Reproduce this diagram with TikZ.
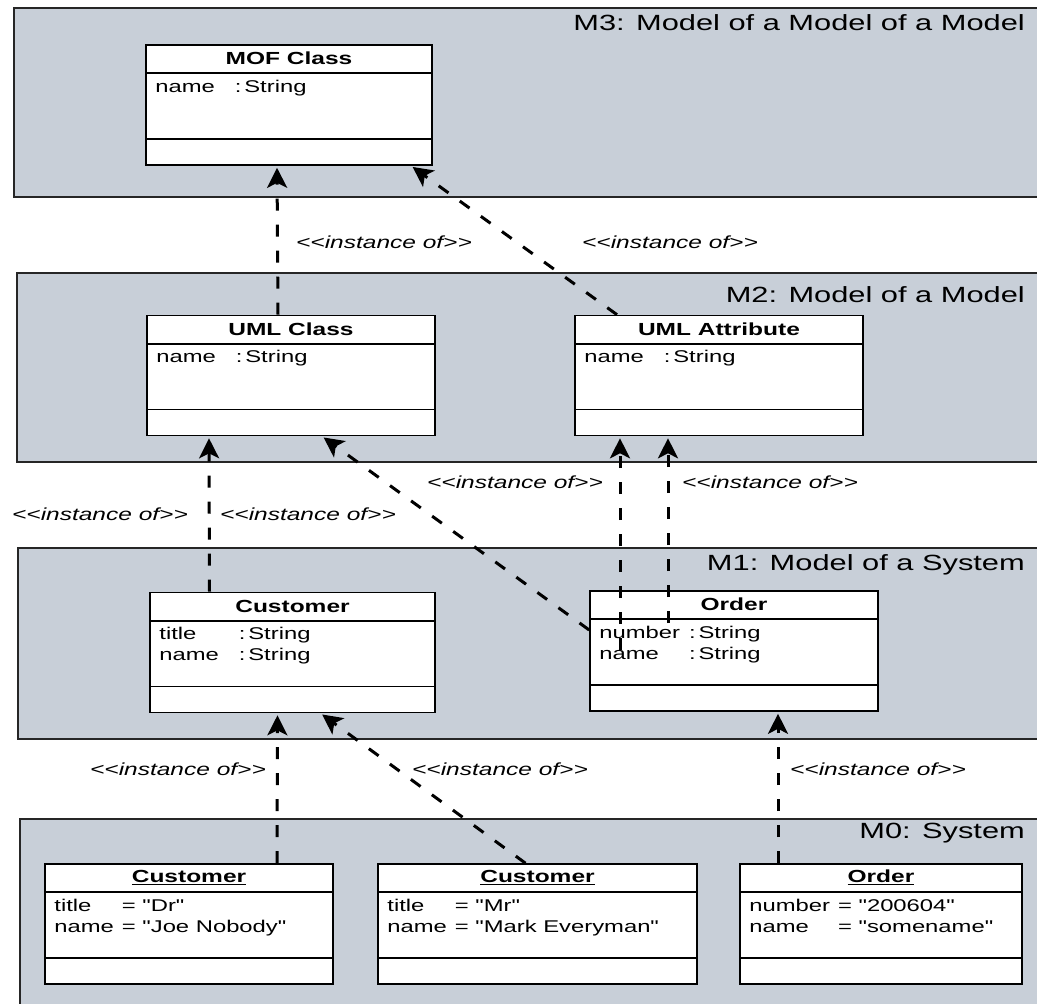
\documentclass[tikz,border=0pt]{standalone}
\usepackage{fontspec}
\setmainfont{Liberation Sans}[FakeStretch=1.4,Ligatures=TeXOff]
\usepackage{tikz}
\usetikzlibrary{arrows.meta,positioning,calc}
\definecolor{layergray}{RGB}{200,207,216}

% one UML box: name, centre, width, title, attribute rows
\newcommand{\umlclass}[5]{%
  \node[umlbox,minimum width=#3](#1) at (#2) {};
  \node[umltitle](#1-title) at ([yshift=-14.5pt]#1.north) {#4};
  \draw[umlrule] ([yshift=-29pt]#1.north west) -- ([yshift=-29pt]#1.north east);
  \draw[umlrule] ([yshift=27pt]#1.south west) -- ([yshift=27pt]#1.south east);
  \node[umlattr](#1-attr) at ([xshift=10pt,yshift=-33pt]#1.north west)
    {\begin{tabular}{@{}l@{\hspace{8pt}}l@{}}#5\end{tabular}};
}
\newcommand{\ofstring}{\hspace{12pt}:\,String}
\newcommand{\instof}{<<instance of>>}

\begin{document}
\begin{tikzpicture}[x=1pt,y=-1pt,% pixel-like grid, y runs down
		layer/.style={draw=black!85,line width=1.6pt,fill=layergray},
		layertitle/.style={anchor=east,inner sep=0pt,font=\fontsize{22}{26}\selectfont},
		umlbox/.style={draw,line width=1.6pt,fill=white,minimum height=120pt,inner sep=0pt},
		umlrule/.style={line width=1.6pt},
		umltitle/.style={inner sep=0pt,font=\bfseries\fontsize{17.5}{20}\selectfont},
		umlattr/.style={anchor=north west,inner sep=0pt,align=left,font=\fontsize{17}{21}\selectfont},
		stereo/.style={inner sep=0pt,font=\itshape\fontsize{17.5}{20}\selectfont},
		instance/.style={draw,line width=3pt,dash pattern=on 12pt off 14pt,shorten >=2pt,
			-{Stealth[length=20pt,width=20pt,inset=5pt]}}
	]
	\useasboundingbox (0,0) rectangle (1037,1004);
	\clip (0,0) rectangle (1037,1004);

	% the four layers
	\draw[layer] (14,8) rectangle (1045,197);
	\draw[layer] (17,273) rectangle (1045,462);
	\draw[layer] (18,548) rectangle (1045,739);
	\draw[layer] (20,819) rectangle (1045,1012);
	\node[layertitle](m3title) at (1025,23) {M3: Model of a Model of a Model};
	\node[layertitle](m2title) at (1025,295) {M2: Model of a Model};
	\node[layertitle](m1title) at (1025,565) {M1: Model of a System};
	\node[layertitle](m0title) at (1025,833) {M0: System};

	% boxes
	\umlclass{mof}{289,105}{286pt}{MOF Class}{name & \ofstring}
	\umlclass{uclass}{291,375.5}{288pt}{UML Class}{name & \ofstring}
	\umlclass{uattr}{719,375.5}{288pt}{UML Attribute}{name & \ofstring}
	\umlclass{m1cust}{292.5,652.5}{285pt}{Customer}{title & \ofstring\\ name & \ofstring}
	\umlclass{m1order}{734,651}{288pt}{Order}{number & \hspace{1pt}:\,String\\ name & \hspace{1pt}:\,String}
	\umlclass{m0joe}{189,924}{288pt}{\underline{Customer}}{title & = "Dr"\\ name & = "Joe Nobody"}
	\umlclass{m0mark}{537.5,924}{319pt}{\underline{Customer}}{title & = "Mr"\\ name & = "Mark Everyman"}
	\umlclass{m0order}{881,924}{282pt}{\underline{Order}}{number & = "200604"\\ name & = "somename"}

	\coordinate (ordnum) at (620,650);
	\coordinate (ordname) at (668,623);

	% instance of links
	\path
	([xshift=-13pt]uclass.north) edge[instance] ([xshift=-12pt]mof.south)
	([xshift=-102pt]uattr.north) edge[instance] ([xshift=122pt]mof.south)
	([xshift=-83pt]m1cust.north) edge[instance] ([xshift=-82pt]uclass.south)
	([yshift=21pt]m1order.west) edge[instance] ([xshift=31pt]uclass.south)
	(ordnum) edge[instance] (ordnum |- uattr.south)
	(ordname) edge[instance] (ordname |- uattr.south)
	([xshift=88pt]m0joe.north) edge[instance] ([xshift=-15pt]m1cust.south)
	([xshift=-12pt]m0mark.north) edge[instance] ([xshift=28pt]m1cust.south)
	([xshift=-103pt]m0order.north) edge[instance] ([xshift=44pt]m1order.south)
	;

	\node[stereo](s1) at (384,242) {\instof};
	\node[stereo](s2) at (670,242) {\instof};
	\node[stereo](s3) at (100,514) {\instof};
	\node[stereo](s4) at (308,514) {\instof};
	\node[stereo](s5) at (515,482) {\instof};
	\node[stereo](s6) at (770,482) {\instof};
	\node[stereo](s7) at (178,769) {\instof};
	\node[stereo](s8) at (500,769) {\instof};
	\node[stereo](s9) at (878,769) {\instof};
\end{tikzpicture}
\end{document}
